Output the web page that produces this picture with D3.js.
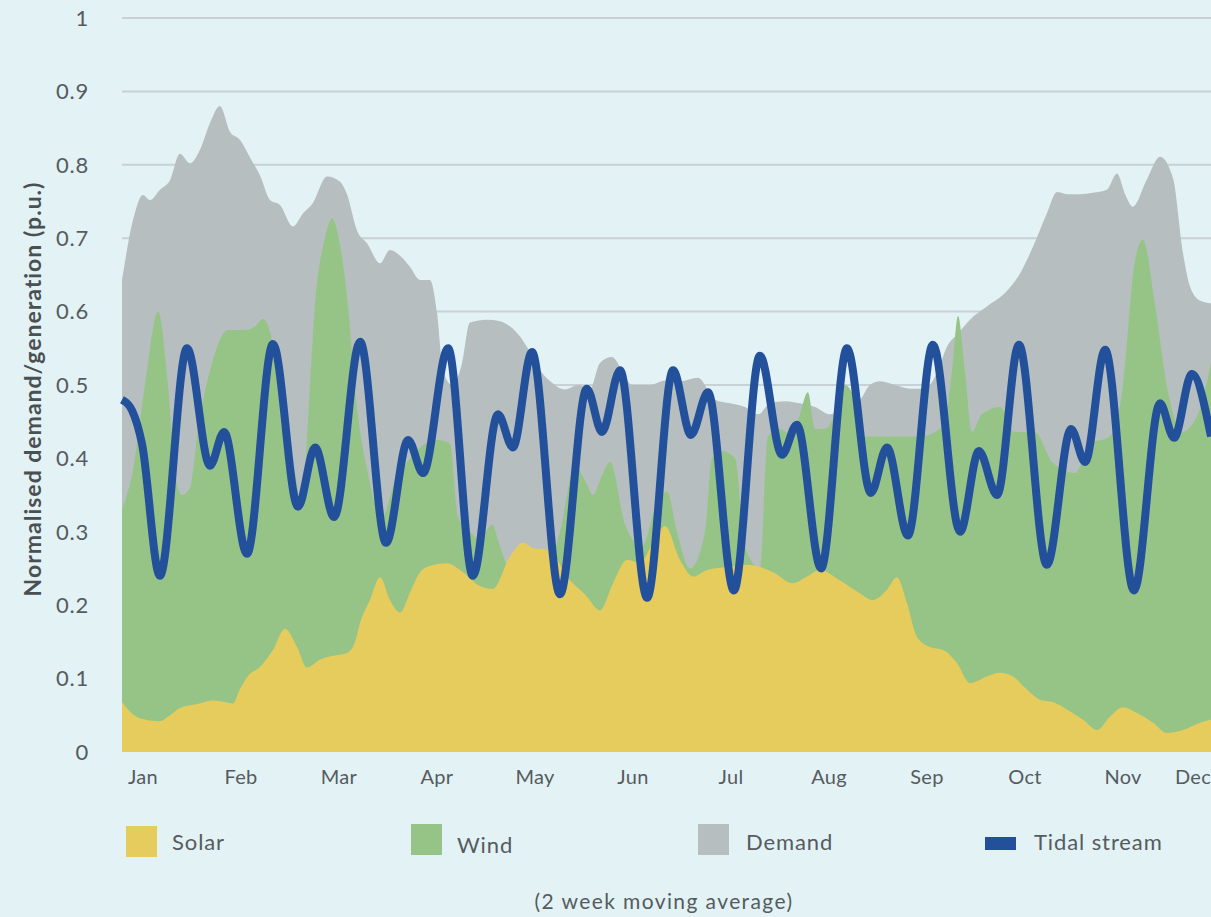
<!DOCTYPE html>
<html><head><meta charset="utf-8">
<script src="https://cdn.jsdelivr.net/npm/d3@7"></script>
<style>
html,body{margin:0;padding:0;background:#e3f2f5;overflow:hidden;}
svg{display:block;font-family:Lato,"Open Sans",sans-serif;}
</style></head><body>
<svg id="c" width="1211" height="917"></svg>
<script>
// ---- data (day of year, normalised p.u.) ----
const months = ["Jan","Feb","Mar","Apr","May","Jun","Jul","Aug","Sep","Oct","Nov","Dec"];
const yTicks = [0,0.1,0.2,0.3,0.4,0.5,0.6,0.7,0.8,0.9,1];
const yTickLabels = ["0","0.1","0.2","0.3","0.4","0.5","0.6","0.7","0.8","0.9","1"];
const seriesNames = ["Solar","Wind","Demand","Tidal stream"];

const demand = [[0,.643],[3.7,.725],[7.0,.759],[9.4,.752],[12.7,.766],[16.1,.779],[19.4,.815],[22.8,.802],[26.1,.82],[29.5,.857],[32.8,.88],[36.2,.845],[39.5,.834],[42.9,.81],[46.3,.785],[49.6,.752],[53.0,.745],[57.3,.716],[60.7,.734],[64.0,.748],[68.7,.784],[73.1,.777],[75.4,.76],[78.8,.71],[82.1,.693],[86.5,.666],[89.8,.684],[93.2,.676],[96.5,.661],[99.9,.643],[103.2,.643],[105.6,.598],[107.6,.52],[110.6,.50],[114.0,.53],[116.6,.585],[122.3,.589],[126.7,.587],[130.0,.58],[133.4,.566],[135.7,.552],[140.1,.52],[143.5,.505],[148.5,.494],[152.8,.50],[156.9,.495],[160.2,.53],[164.2,.538],[167.6,.52],[170.9,.50],[177.0,.50],[182.0,.506],[187.0,.505],[193.0,.51],[198.8,.48],[203.8,.475],[208.8,.47],[213.2,.46],[217.2,.475],[222.2,.478],[227.2,.475],[232.3,.47],[237.3,.46],[242.3,.47],[247.4,.48],[250.7,.50],[254.1,.505],[259.1,.50],[264.1,.495],[269.1,.495],[273.5,.52],[276.5,.552],[280.2,.57],[284.2,.589],[289.9,.607],[296.6,.628],[301.0,.652],[305.3,.688],[310.0,.734],[313.4,.763],[316.7,.76],[321.1,.76],[325.4,.762],[330.1,.766],[333.5,.788],[336.2,.76],[338.8,.743],[343.5,.78],[347.9,.811],[352.3,.781],[355.6,.68],[358.0,.634],[361.3,.615],[365,.611]];

const wind = [[0,.33],[3.7,.385],[7.7,.50],[12.1,.60],[15.4,.50],[17.8,.38],[20.1,.35],[22.8,.36],[25.5,.44],[30.2,.53],[35.5,.575],[41.2,.575],[44.6,.58],[47.3,.59],[50.3,.56],[53.6,.44],[58.0,.38],[60.3,.33],[62.3,.45],[64.7,.61],[68.0,.70],[70.4,.727],[73.1,.69],[75.7,.61],[78.1,.494],[82.4,.38],[87.1,.32],[91.5,.37],[96.5,.40],[101.6,.42],[105.9,.425],[109.9,.42],[112.6,.32],[116.6,.30],[120.0,.29],[124.0,.31],[126.7,.28],[130.0,.25],[136.7,.25],[143.5,.26],[146.8,.30],[151.8,.39],[155.2,.37],[157.9,.35],[160.2,.37],[163.6,.395],[168.6,.31],[174.3,.28],[178.6,.33],[182.7,.355],[186.0,.30],[190.4,.25],[195.4,.30],[197.7,.40],[201.1,.41],[205.5,.40],[208.8,.28],[213.8,.25],[216.5,.43],[220.5,.44],[224.9,.43],[227.2,.46],[229.9,.49],[232.3,.44],[235.6,.44],[239.0,.46],[242.3,.50],[245.7,.48],[249.0,.43],[254.1,.43],[260.8,.43],[267.5,.43],[272.5,.436],[275.8,.45],[278.2,.52],[280.2,.594],[282.5,.52],[284.9,.436],[288.2,.46],[294.3,.47],[299.3,.436],[306.0,.436],[311.7,.395],[319.4,.38],[324.4,.42],[331.1,.43],[335.2,.49],[339.5,.669],[342.2,.698],[346.2,.61],[350.6,.49],[355.3,.436],[360.6,.46],[365,.53]];

const solar = [[0,.068],[2.7,.055],[6.0,.046],[12.7,.042],[16.1,.05],[19.4,.06],[26.1,.066],[30.5,.07],[34.5,.068],[37.2,.066],[39.5,.085],[41.9,.102],[46.3,.116],[50.6,.139],[54.6,.168],[58.7,.143],[62.0,.115],[66.4,.126],[70.7,.131],[75.4,.135],[78.1,.15],[79.8,.176],[83.1,.207],[86.5,.238],[89.8,.207],[93.2,.19],[96.5,.217],[99.9,.245],[102.2,.252],[108.9,.257],[113.3,.248],[120.0,.226],[124.3,.222],[130.0,.266],[134.4,.285],[137.7,.278],[143.5,.275],[149.1,.239],[155.8,.212],[160.2,.193],[164.6,.23],[169.3,.262],[173.6,.258],[178.0,.285],[182.0,.308],[187.0,.262],[191.4,.239],[196.1,.248],[202.8,.252],[209.5,.255],[213.8,.252],[218.2,.245],[224.9,.23],[229.6,.239],[233.9,.248],[240.6,.234],[247.4,.216],[251.7,.207],[256.4,.221],[259.7,.238],[263.1,.203],[266.4,.157],[270.8,.143],[275.2,.139],[279.9,.121],[284.2,.094],[289.9,.103],[294.3,.108],[298.6,.103],[303.3,.085],[307.7,.071],[312.0,.068],[316.7,.058],[322.1,.044],[326.8,.03],[331.1,.048],[335.5,.061],[340.2,.053],[345.6,.04],[350.2,.026],[355.6,.03],[361.3,.04],[365,.044]];

const tidal = [[0,.48],[3.4,.465],[6.7,.42],[12.7,.24],[21.8,.55],[29.5,.39],[34.2,.436],[41.9,.27],[50.6,.556],[59.0,.334],[64.7,.415],[71.1,.32],[79.8,.559],[88.5,.285],[95.9,.425],[100.9,.38],[109.3,.55],[117.6,.24],[126.0,.46],[131.0,.415],[137.4,.545],[146.8,.215],[155.8,.495],[160.9,.436],[166.9,.52],[176.0,.21],[184.7,.52],[190.7,.432],[196.4,.49],[205.1,.22],[213.8,.54],[221.2,.405],[226.2,.446],[234.3,.25],[243.0,.55],[251.0,.353],[256.4,.415],[263.4,.295],[271.8,.555],[280.9,.30],[287.2,.41],[293.3,.35],[300.6,.555],[310.0,.255],[318.1,.44],[322.8,.395],[329.5,.548],[339.2,.22],[347.9,.475],[352.6,.428],[358.6,.515],[365,.43]];

// ---- styles ----
const C = {bg:"#e3f2f5", grid:"#c6d2d5", demand:"#b7bec0", wind:"#96c487", solar:"#e5cc5c", tidal:"#23509a", text:"#555b5e", title:"#4a4f52"};

const svg = d3.select("#c");
svg.append("rect").attr("width",1211).attr("height",917).attr("fill",C.bg);

const x = d3.scaleLinear().domain([0,365]).range([122,1211]);
const y = d3.scaleLinear().domain([0,1]).range([752,18]);

// gridlines
svg.append("g").selectAll("line").data(yTicks.filter(v=>v>0)).join("line")
  .attr("x1",122).attr("x2",1211).attr("y1",d=>y(d)).attr("y2",d=>y(d))
  .attr("stroke",C.grid).attr("stroke-width",2);

// y tick labels
svg.append("g").selectAll("text").data(yTicks).join("text")
  .attr("x",89).attr("y",d=>y(d)).attr("dy","0.35em")
  .attr("text-anchor","end").attr("font-size",22).attr("letter-spacing",0.8).attr("fill",C.text)
  .text((d,i)=>yTickLabels[i]);

// y title
svg.append("text").attr("transform","translate(41,389) rotate(-90)")
  .attr("text-anchor","middle").attr("font-size",23).attr("letter-spacing",1.0).attr("font-weight",700)
  .attr("fill",C.title).text("Normalised demand/generation (p.u.)");

const area = d3.area().x(d=>x(d[0])).y0(y(0)).y1(d=>y(d[1])).curve(d3.curveMonotoneX);
svg.append("path").datum(demand).attr("d",area).attr("fill",C.demand);
svg.append("path").datum(wind).attr("d",area).attr("fill",C.wind);
svg.append("path").datum(solar).attr("d",area).attr("fill",C.solar);

const line = d3.line().x(d=>x(d[0])).y(d=>y(d[1])).curve(d3.curveMonotoneX);
svg.append("path").datum(tidal).attr("d",line).attr("fill","none")
  .attr("stroke",C.tidal).attr("stroke-width",8).attr("stroke-linejoin","round");

// month labels
const xm = d3.scalePoint().domain(months).range([143,1221]);
const ml = svg.append("g").selectAll("text").data(months).join("text")
  .attr("x",d=>xm(d)).attr("y",777).attr("dy","0.35em")
  .attr("text-anchor","middle").attr("font-size",20).attr("letter-spacing",0.3).attr("fill",C.text).text(d=>d);
ml.each(function(){
  const b=this.getBBox();
  if(b.x+b.width>1211){ d3.select(this).attr("text-anchor","end").attr("x",1211); }
});

// legend
const leg = [
  {n:seriesNames[0], c:C.solar, sx:126, sy:826, sw:31, sh:31, tx:172, ty:842},
  {n:seriesNames[1], c:C.wind,  sx:411, sy:824, sw:31, sh:31, tx:457, ty:845},
  {n:seriesNames[2], c:C.demand,sx:698, sy:824, sw:31, sh:31, tx:746, ty:842},
  {n:seriesNames[3], c:C.tidal, sx:985, sy:837, sw:31, sh:13, tx:1034, ty:842}
];
const lg = svg.append("g");
leg.forEach(l=>{
  lg.append("rect").attr("x",l.sx).attr("y",l.sy).attr("width",l.sw).attr("height",l.sh).attr("fill",l.c);
  lg.append("text").attr("x",l.tx).attr("y",l.ty).attr("dy","0.35em").attr("font-size",22)
    .attr("letter-spacing",0.9).attr("fill",C.text).text(l.n);
});

svg.append("text").attr("x",664).attr("y",902).attr("dy","0.35em").attr("text-anchor","middle")
  .attr("font-size",21).attr("letter-spacing",1.4).attr("fill",C.text).text("(2 week moving average)");
</script>
</body></html>
